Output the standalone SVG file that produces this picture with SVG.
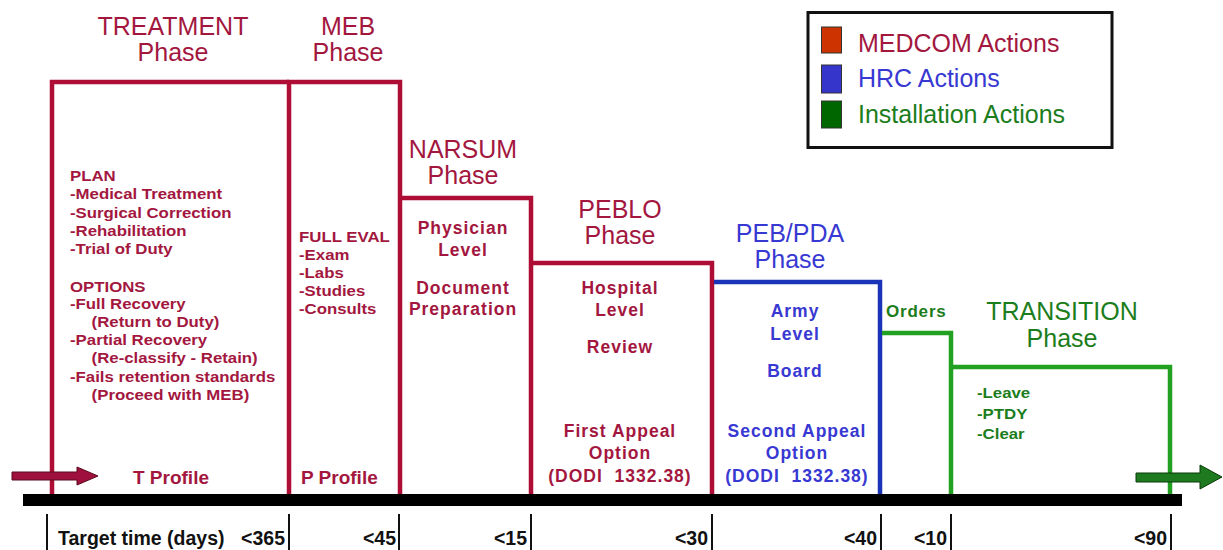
<svg xmlns="http://www.w3.org/2000/svg" width="1223" height="550" viewBox="0 0 1223 550">
  <style>
    .title { font-family: "Liberation Sans", Arial, sans-serif; font-size: 25px; text-anchor: middle; }
    .body { font-family: "Liberation Sans", Arial, sans-serif; font-weight: bold; font-size: 17.5px; letter-spacing: 1px; text-anchor: middle; }
    .list { font-family: "Liberation Sans", Arial, sans-serif; font-weight: bold; font-size: 14px; }
    .prof { font-family: "Liberation Sans", Arial, sans-serif; font-weight: bold; font-size: 19px; }
    .axis { font-family: "Liberation Sans", Arial, sans-serif; font-weight: bold; font-size: 19.5px; fill: #111; }
    .legend { font-family: "Liberation Sans", Arial, sans-serif; font-size: 25px; }
    .red { fill: #A3173F; }
    .blue { fill: #3838D2; }
    .green { fill: #1C7D1C; }
    .outline { fill: none; stroke-width: 4.5; stroke-linejoin: miter; stroke-linecap: butt; }
    .tick { stroke: #111; stroke-width: 2; }
  </style>

  <!-- TREATMENT phase -->
  <g id="treatment">
    <path class="outline" stroke="#AE0E36" d="M52,494 V82 H289"/>
    <text class="title red" x="173" y="35">TREATMENT</text>
    <text class="title red" x="173" y="61">Phase</text>
    <g class="red" transform="translate(70,0) scale(1.2,1)">
      <text class="list" x="0" y="181">PLAN</text>
      <text class="list" x="0" y="199">-Medical Treatment</text>
      <text class="list" x="0" y="218">-Surgical Correction</text>
      <text class="list" x="0" y="236">-Rehabilitation</text>
      <text class="list" x="0" y="254">-Trial of Duty</text>
      <text class="list" x="0" y="292">OPTIONS</text>
      <text class="list" x="0" y="309">-Full Recovery</text>
      <text class="list" x="18" y="327">(Return to Duty)</text>
      <text class="list" x="0" y="345">-Partial Recovery</text>
      <text class="list" x="18" y="363">(Re-classify - Retain)</text>
      <text class="list" x="0" y="382">-Fails retention standards</text>
      <text class="list" x="18" y="400">(Proceed with MEB)</text>
    </g>
    <text class="prof red" x="171" y="484" text-anchor="middle">T Profile</text>
  </g>

  <!-- MEB phase -->
  <g id="meb">
    <path class="outline" stroke="#AE0E36" d="M289,494 V82 H400 V494"/>
    <text class="title red" x="348" y="35">MEB</text>
    <text class="title red" x="348" y="61">Phase</text>
    <g class="red" transform="translate(299,0) scale(1.2,1)">
      <text class="list" x="0" y="242">FULL EVAL</text>
      <text class="list" x="0" y="260">-Exam</text>
      <text class="list" x="0" y="278">-Labs</text>
      <text class="list" x="0" y="296">-Studies</text>
      <text class="list" x="0" y="314">-Consults</text>
    </g>
    <text class="prof red" x="301" y="484">P Profile</text>
  </g>

  <!-- NARSUM phase -->
  <g id="narsum">
    <path class="outline" stroke="#AE0E36" d="M400,198 H531 V494"/>
    <text class="title red" x="463" y="158">NARSUM</text>
    <text class="title red" x="463" y="184">Phase</text>
    <text class="body red" x="463" y="234">Physician</text>
    <text class="body red" x="463" y="256">Level</text>
    <text class="body red" x="463" y="294">Document</text>
    <text class="body red" x="463" y="315">Preparation</text>
  </g>

  <!-- PEBLO phase -->
  <g id="peblo">
    <path class="outline" stroke="#AE0E36" d="M531,263 H712 V494"/>
    <text class="title red" x="620" y="218">PEBLO</text>
    <text class="title red" x="620" y="244">Phase</text>
    <text class="body red" x="620" y="294">Hospital</text>
    <text class="body red" x="620" y="316">Level</text>
    <text class="body red" x="620" y="353">Review</text>
    <text class="body red" x="620" y="437">First Appeal</text>
    <text class="body red" x="620" y="459">Option</text>
    <text class="body red" x="620" y="482" xml:space="preserve">(DODI  1332.38)</text>
  </g>

  <!-- PEB/PDA phase -->
  <g id="peb-pda">
    <path class="outline" stroke="#1A34B8" d="M714,282 H880 V494"/>
    <text class="title blue" x="790" y="242">PEB/PDA</text>
    <text class="title blue" x="790" y="268">Phase</text>
    <text class="body blue" x="795" y="317">Army</text>
    <text class="body blue" x="795" y="340">Level</text>
    <text class="body blue" x="795" y="377">Board</text>
    <text class="body blue" x="797" y="437">Second Appeal</text>
    <text class="body blue" x="797" y="459">Option</text>
    <text class="body blue" x="797" y="482" xml:space="preserve">(DODI  1332.38)</text>
  </g>

  <!-- Orders step -->
  <g id="orders">
    <path class="outline" stroke="#22A022" d="M882,333 H951 V494"/>
    <text class="green" x="886" y="317" font-family="Liberation Sans, Arial, sans-serif" font-weight="bold" font-size="17" letter-spacing="0.8">Orders</text>
  </g>

  <!-- TRANSITION phase -->
  <g id="transition">
    <path class="outline" stroke="#22A022" d="M951,367 H1170 V494"/>
    <text class="title green" x="1062" y="320">TRANSITION</text>
    <text class="title green" x="1062" y="347">Phase</text>
    <g class="green" transform="translate(977,0) scale(1.2,1)">
      <text class="list" x="0" y="398">-Leave</text>
      <text class="list" x="0" y="419">-PTDY</text>
      <text class="list" x="0" y="439">-Clear</text>
    </g>
  </g>

  <!-- Legend -->
  <g id="legend">
    <rect x="808" y="12.5" width="304" height="135" fill="#fff" stroke="#111" stroke-width="3"/>
    <rect x="821.5" y="27" width="20" height="26" fill="#CC3300" stroke="#333" stroke-width="1"/>
    <rect x="821.5" y="65" width="20" height="28" fill="#3535CC" stroke="#333" stroke-width="1"/>
    <rect x="821.5" y="101" width="20" height="27" fill="#006600" stroke="#333" stroke-width="1"/>
    <text class="legend red" x="858" y="52">MEDCOM Actions</text>
    <text class="legend blue" x="858" y="87">HRC Actions</text>
    <text class="legend green" x="858" y="123">Installation Actions</text>
  </g>

  <!-- Timeline axis -->
  <g id="timeline">
    <rect x="23" y="494" width="1159" height="12" fill="#000"/>
    <line class="tick" x1="47" y1="514" x2="47" y2="550"/>
    <line class="tick" x1="289" y1="514" x2="289" y2="550"/>
    <line class="tick" x1="399" y1="514" x2="399" y2="550"/>
    <line class="tick" x1="531" y1="514" x2="531" y2="550"/>
    <line class="tick" x1="712" y1="514" x2="712" y2="550"/>
    <line class="tick" x1="881" y1="514" x2="881" y2="550"/>
    <line class="tick" x1="951" y1="514" x2="951" y2="550"/>
    <line class="tick" x1="1171" y1="514" x2="1171" y2="550"/>
    <text class="axis" x="58" y="545">Target time (days)</text>
    <text class="axis" x="285" y="545" text-anchor="end">&lt;365</text>
    <text class="axis" x="396" y="545" text-anchor="end">&lt;45</text>
    <text class="axis" x="527" y="545" text-anchor="end">&lt;15</text>
    <text class="axis" x="708" y="545" text-anchor="end">&lt;30</text>
    <text class="axis" x="877" y="545" text-anchor="end">&lt;40</text>
    <text class="axis" x="947" y="545" text-anchor="end">&lt;10</text>
    <text class="axis" x="1167" y="545" text-anchor="end">&lt;90</text>
  </g>

  <!-- Entry and exit arrows -->
  <g id="connectors">
    <path d="M12,472 H77 V467 L98,476 L77,485 V480 H12 Z" fill="#A0103F" stroke="#5a0a1e" stroke-width="1"/>
    <path d="M1136,473 H1200 V465 L1222,477 L1200,489 V482 H1136 Z" fill="#1E7A1E" stroke="#0a3a0a" stroke-width="1"/>
  </g>
</svg>
